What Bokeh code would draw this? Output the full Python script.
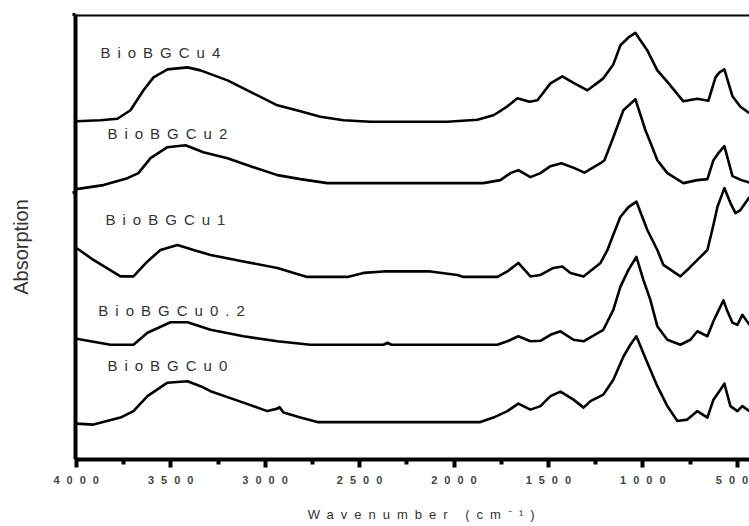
from bokeh.plotting import figure
from bokeh.layouts import row
from bokeh.models import Range1d, FixedTicker, Span, Label, InlineStyleSheet
from bokeh.embed import file_html
from bokeh.resources import INLINE
from bokeh.core.properties import value

# ---- data (wavenumber in cm-1, stacked absorption in arbitrary units) ----
wn_cu4 = [4000, 3873, 3783, 3714, 3645, 3592, 3518, 3412, 3343, 3200, 3063, 2936, 2814, 2708, 2586, 2443,
          2036, 1877, 1792, 1750, 1718, 1665, 1601, 1559, 1490, 1427, 1368, 1294, 1210, 1157, 1120, 1077,
          1040, 977, 924, 871, 786, 712, 654, 616, 595, 569, 526, 484, 436]
abs_cu4 = [3.39, 3.40, 3.415, 3.50, 3.70, 3.83, 3.91, 3.93, 3.90, 3.80, 3.67, 3.55, 3.49, 3.435, 3.40, 3.385,
           3.385, 3.405, 3.45, 3.50, 3.54, 3.62, 3.585, 3.60, 3.77, 3.84, 3.775, 3.70, 3.82, 3.96, 4.15, 4.23,
           4.275, 4.10, 3.90, 3.785, 3.59, 3.615, 3.595, 3.83, 3.88, 3.91, 3.64, 3.535, 3.47]

wn_cu2 = [4000, 3857, 3730, 3672, 3608, 3518, 3423, 3328, 3200, 3063, 2936, 2814, 2671, 1845, 1755, 1702,
          1660, 1596, 1543, 1490, 1432, 1363, 1310, 1225, 1204, 1157, 1104, 1040, 987, 955, 924, 871, 786,
          712, 659, 627, 601, 569, 526, 479, 436]
abs_cu2 = [2.71, 2.75, 2.82, 2.87, 3.02, 3.13, 3.15, 3.08, 3.02, 2.93, 2.85, 2.81, 2.77, 2.77, 2.80, 2.87,
           2.90, 2.83, 2.87, 2.94, 2.97, 2.92, 2.875, 2.97, 3.00, 3.23, 3.50, 3.61, 3.30, 3.15, 3.00, 2.87, 2.77,
           2.80, 2.81, 3.00, 3.07, 3.14, 2.84, 2.80, 2.775]

wn_cu1 = [4000, 3910, 3767, 3698, 3624, 3555, 3465, 3380, 3290, 3116, 2936, 2814, 2777, 2565, 2480, 2374,
          2126, 1983, 1951, 1771, 1718, 1660, 1596, 1543, 1474, 1427, 1384, 1315, 1225, 1188, 1162, 1120,
          1077, 1035, 977, 924, 892, 802, 749, 659, 627, 606, 569, 537, 510, 484, 436]
abs_cu1 = [2.12, 2.00, 1.835, 1.835, 1.985, 2.10, 2.15, 2.10, 2.05, 1.985, 1.92, 1.85, 1.83, 1.83, 1.87, 1.885,
           1.885, 1.85, 1.83, 1.83, 1.885, 1.97, 1.835, 1.85, 1.92, 1.935, 1.87, 1.835, 1.97, 2.10, 2.23, 2.43,
           2.53, 2.585, 2.30, 2.10, 1.95, 1.835, 1.93, 2.10, 2.35, 2.53, 2.72, 2.57, 2.47, 2.50, 2.63]

wn_cu02 = [4000, 3820, 3698, 3624, 3502, 3412, 3290, 3116, 2936, 2761, 2374, 2353, 2332, 1771, 1718, 1660,
           1596, 1543, 1490, 1437, 1368, 1315, 1210, 1157, 1120, 1077, 1035, 998, 961, 924, 871, 802, 749,
           712, 659, 627, 606, 574, 553, 526, 500, 474, 436]
abs_cu02 = [1.21, 1.15, 1.15, 1.27, 1.375, 1.375, 1.30, 1.235, 1.185, 1.15, 1.15, 1.17, 1.15, 1.15, 1.185, 1.235,
            1.185, 1.19, 1.25, 1.285, 1.20, 1.185, 1.30, 1.50, 1.73, 1.90, 2.03, 1.80, 1.60, 1.335, 1.20, 1.15, 1.20,
            1.285, 1.235, 1.385, 1.47, 1.595, 1.485, 1.37, 1.35, 1.45, 1.35]

wn_cu0 = [4000, 3910, 3767, 3698, 3624, 3518, 3412, 3343, 3290, 3116, 2989, 2936, 2925, 2904, 2814, 2724,
          1861, 1792, 1718, 1660, 1596, 1543, 1490, 1437, 1368, 1315, 1278, 1210, 1157, 1104, 1067, 1035,
          977, 924, 871, 818, 765, 712, 659, 627, 601, 569, 537, 500, 474, 436]
abs_cu0 = [0.36, 0.35, 0.42, 0.485, 0.635, 0.77, 0.785, 0.735, 0.685, 0.57, 0.485, 0.51, 0.525, 0.47, 0.42, 0.375,
           0.375, 0.42, 0.485, 0.56, 0.50, 0.535, 0.635, 0.68, 0.60, 0.52, 0.585, 0.65, 0.80, 1.03, 1.15, 1.235,
           0.97, 0.735, 0.535, 0.385, 0.40, 0.485, 0.42, 0.60, 0.67, 0.76, 0.535, 0.485, 0.535, 0.485]

series_names = ["BioBGCu4", "BioBGCu2", "BioBGCu1", "BioBGCu0.2", "BioBGCu0"]
label_wn = [3873, 3836, 3846, 3884, 3836]
label_abs = [4.08, 3.27, 2.41, 1.49, 0.94]

major_ticks = [4000, 3500, 3000, 2500, 2000, 1500, 1000, 500]
tick_labels = ["4000", "3500", "3000", "2500", "2000", "1500", "1000", "500"]
minor_ticks = [3750, 3250, 2750, 2250, 1750, 1250, 750]
y_ticks = [2.68, 4.46]

x_title = "Wavenumber (cm⁻¹)"
y_title = "Absorption"

FONT = "Liberation Sans"
SPACING = 7            # px, letter spacing of the original figure's text
PAD = "\u00a0"         # invisible padding that keeps letter-spaced text in place
EMPAD = "\u2003"

# ---- main plot ----
p = figure(width=713, height=524, output_backend="svg", toolbar_location=None,
           x_range=Range1d(4005, 436), y_range=Range1d(0, 4.46),
           min_border_left=39, min_border_right=0, min_border_top=14, min_border_bottom=64)
p.outline_line_color = None
p.xgrid.visible = False
p.ygrid.visible = False
p.background_fill_color = "white"
p.border_fill_color = "white"

for wn, ab in [(wn_cu4, abs_cu4), (wn_cu2, abs_cu2), (wn_cu1, abs_cu1), (wn_cu02, abs_cu02), (wn_cu0, abs_cu0)]:
    p.line(wn, ab, line_color="black", line_width=2.6, line_join="round")

p.text(x=label_wn, y=label_abs, text=series_names, text_font=value(FONT), text_font_size="15px",
       text_color="#333333", text_align="left", text_baseline="middle")

# top frame line
p.add_layout(Span(location=4.46, dimension="width", line_color="black", line_width=4))

xa = p.xaxis[0]
xa.ticker = FixedTicker(ticks=major_ticks, minor_ticks=minor_ticks)
xa.major_label_overrides = {t: s + PAD * (2 * (len(s) - 1) + 1) for t, s in zip(major_ticks, tick_labels)}
xa.axis_line_width = 4
xa.major_tick_line_width = 4
xa.minor_tick_line_width = 4
xa.major_tick_out = 8
xa.major_tick_in = 0
xa.minor_tick_out = 5
xa.minor_tick_in = 0
xa.major_label_text_font = FONT
xa.major_label_text_font_size = "11px"
xa.major_label_text_font_style = "bold"
xa.major_label_text_color = "#444444"
xa.major_label_standoff = 6
xa.axis_label = x_title + EMPAD * 7 + PAD
xa.axis_label_text_font = FONT
xa.axis_label_text_font_size = "13px"
xa.axis_label_text_font_style = "normal"
xa.axis_label_text_color = "#333333"
xa.axis_label_standoff = 18

ya = p.yaxis[0]
ya.ticker = FixedTicker(ticks=y_ticks, minor_ticks=[])
ya.axis_line_width = 4
ya.major_tick_line_width = 3
ya.major_tick_out = 3
ya.major_tick_in = 0
ya.minor_tick_out = 0
ya.major_label_text_alpha = 0

p.stylesheets = [InlineStyleSheet(css=f":host {{ letter-spacing: {SPACING}px; }}")]

# ---- narrow strip holding the (not letter-spaced) y-axis title ----
ylab = figure(width=36, height=524, output_backend="svg", toolbar_location=None,
              x_range=Range1d(0, 36), y_range=Range1d(524, 0),
              x_axis_location=None, y_axis_location=None, min_border=0)
ylab.outline_line_color = None
ylab.xgrid.visible = False
ylab.ygrid.visible = False
ylab.add_layout(Label(x=20.5, y=330, text=y_title, angle=90, angle_units="deg", text_font=FONT,
                      text_font_size="20px", text_color="#333333", text_align="left",
                      text_baseline="middle"))

layout = row(ylab, p)
open("out.html", "w").write(file_html(layout, INLINE))
